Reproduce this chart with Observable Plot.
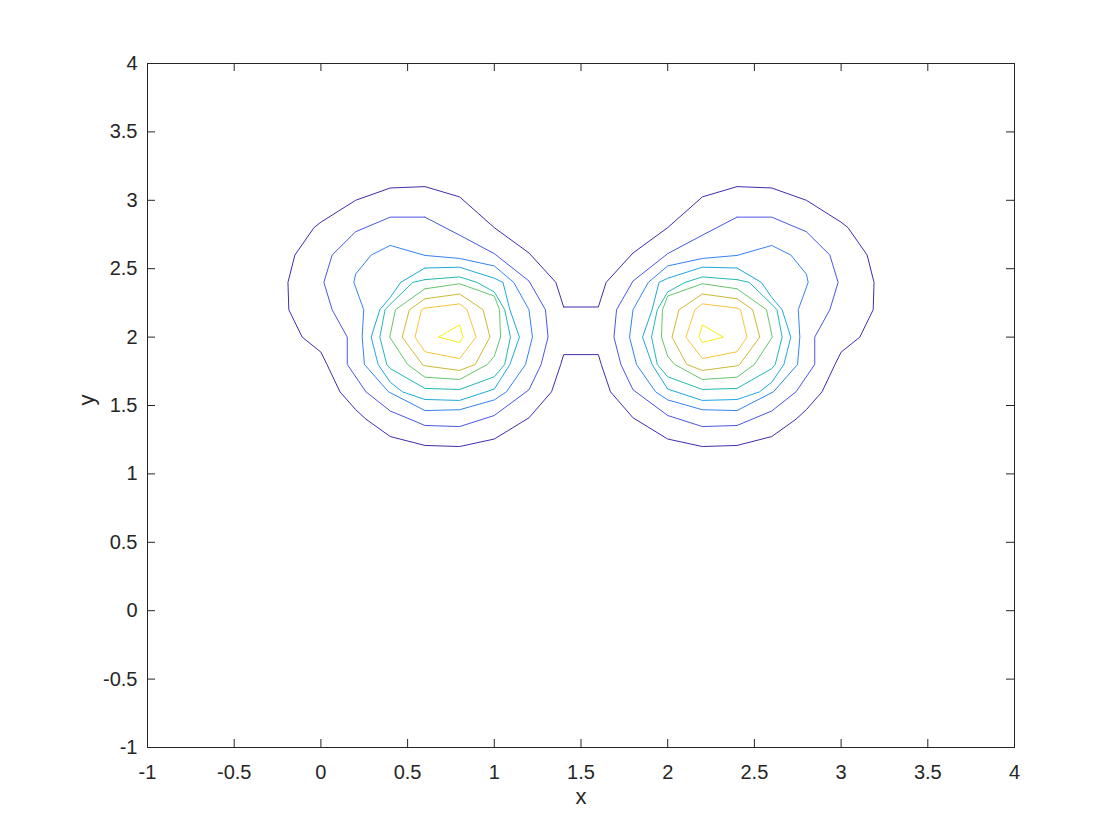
<!DOCTYPE html>
<html><head><meta charset="utf-8">
<script src="https://cdn.jsdelivr.net/npm/d3@7"></script>
<script src="https://cdn.jsdelivr.net/npm/@observablehq/plot@0.6"></script>
<style>body{margin:0;background:#fff}#chart{width:1120px;height:840px}</style>
</head><body><div id="chart"></div>
<script>
// Tick values
const xTicks = [-1, -0.5, 0, 0.5, 1, 1.5, 2, 2.5, 3, 3.5, 4];
const yTicks = [-1, -0.5, 0, 0.5, 1, 1.5, 2, 2.5, 3, 3.5, 4];

// Contour level colours (parula), level 1 = outermost
const levelNames = [1, 2, 3, 4, 5, 6, 7, 8, 9];
const levelColors = ["#3f2daf", "#4b55e6", "#3582f3", "#1ea8dc", "#20bab2", "#66c66a", "#cdb934", "#f8c53c", "#f4f20f"];

// Contour vertices ([x, y])
const level1 = [[1.4,2.22],[1.355,2.4],[1.2,2.615],[1.0,2.8],[0.8,3.025],[0.6,3.1],[0.4,3.09],[0.2,3.0],[0.0,2.84],[-0.04,2.8],[-0.15,2.6],[-0.19,2.4],[-0.185,2.2],[-0.108,2.0],[0.0,1.89],[0.035,1.8],[0.11,1.6],[0.2,1.47],[0.26,1.4],[0.4,1.273],[0.6,1.208],[0.8,1.2],[1.0,1.255],[1.2,1.41],[1.33,1.6],[1.383,1.8],[1.4,1.872],
  [1.6,1.872],[1.617,1.8],[1.67,1.6],[1.8,1.41],[2.0,1.255],[2.2,1.2],[2.4,1.208],[2.6,1.273],[2.74,1.4],[2.8,1.47],[2.89,1.6],[2.965,1.8],[3.0,1.89],[3.108,2.0],[3.185,2.2],[3.19,2.4],[3.15,2.6],[3.04,2.8],[3.0,2.84],[2.8,3.0],[2.6,3.09],[2.4,3.1],[2.2,3.025],[2.0,2.8],[1.8,2.615],[1.645,2.4],[1.6,2.22]];

const level2Left = [[0.6,2.877],[0.8,2.745],[1.0,2.61],[1.2,2.41],[1.295,2.2],[1.31,2.0],[1.27,1.8],[1.2,1.615],[1.0,1.427],[0.8,1.346],[0.6,1.354],[0.4,1.46],[0.26,1.6],[0.152,1.8],[0.152,2.0],[0.065,2.2],[0.017,2.4],[0.065,2.6],[0.2,2.77],[0.4,2.877]];
const level2Right = [[2.4,2.877],[2.2,2.745],[2.0,2.61],[1.8,2.41],[1.705,2.2],[1.69,2.0],[1.73,1.8],[1.8,1.615],[2.0,1.427],[2.2,1.346],[2.4,1.354],[2.6,1.46],[2.74,1.6],[2.848,1.8],[2.848,2.0],[2.935,2.2],[2.983,2.4],[2.935,2.6],[2.8,2.77],[2.6,2.877]];

const level3Left = [[0.6,2.597],[0.4,2.67],[0.29,2.6],[0.2,2.46],[0.19,2.4],[0.247,2.2],[0.238,2.0],[0.251,1.8],[0.39,1.6],[0.6,1.463],[0.8,1.469],[1.0,1.541],[1.07,1.6],[1.18,1.8],[1.22,2.0],[1.2,2.2],[1.112,2.4],[1.0,2.52],[0.8,2.575]];
const level3Right = [[2.4,2.597],[2.6,2.67],[2.71,2.6],[2.8,2.46],[2.81,2.4],[2.753,2.2],[2.762,2.0],[2.749,1.8],[2.61,1.6],[2.4,1.463],[2.2,1.469],[2.0,1.541],[1.93,1.6],[1.82,1.8],[1.78,2.0],[1.8,2.2],[1.888,2.4],[2.0,2.52],[2.2,2.575]];

const level4Left = [[0.6,2.505],[0.8,2.511],[1.0,2.43],[1.05,2.4],[1.09,2.2],[1.145,2.0],[1.09,1.8],[1.0,1.62],[0.8,1.537],[0.6,1.544],[0.47,1.6],[0.4,1.67],[0.33,1.8],[0.29,2.0],[0.34,2.2],[0.4,2.29],[0.46,2.4]];
const level4Right = [[2.4,2.505],[2.2,2.511],[2.0,2.43],[1.95,2.4],[1.91,2.2],[1.855,2.0],[1.91,1.8],[2.0,1.62],[2.2,1.537],[2.4,1.544],[2.53,1.6],[2.6,1.67],[2.67,1.8],[2.71,2.0],[2.66,2.2],[2.6,2.29],[2.54,2.4]];

const level5Left = [[0.6,2.42],[0.8,2.44],[0.9,2.4],[1.0,2.33],[1.06,2.2],[1.093,2.0],[1.06,1.8],[1.0,1.71],[0.8,1.617],[0.6,1.625],[0.4,1.77],[0.38,1.8],[0.34,2.0],[0.37,2.2],[0.4,2.24],[0.53,2.4]];
const level5Right = [[2.4,2.42],[2.2,2.44],[2.1,2.4],[2.0,2.33],[1.94,2.2],[1.907,2.0],[1.94,1.8],[2.0,1.71],[2.2,1.617],[2.4,1.625],[2.6,1.77],[2.62,1.8],[2.66,2.0],[2.63,2.2],[2.6,2.24],[2.47,2.4]];

const level6Left = [[0.6,2.353],[0.8,2.39],[1.0,2.3],[1.03,2.2],[1.036,2.0],[1.0,1.86],[0.96,1.8],[0.8,1.69],[0.6,1.707],[0.5,1.8],[0.397,2.0],[0.43,2.2]];
const level6Right = [[2.4,2.353],[2.2,2.39],[2.0,2.3],[1.97,2.2],[1.964,2.0],[2.0,1.86],[2.04,1.8],[2.2,1.69],[2.4,1.707],[2.5,1.8],[2.603,2.0],[2.57,2.2]];

const level7Left = [[0.6,2.28],[0.8,2.315],[0.935,2.2],[0.975,2.0],[0.89,1.8],[0.8,1.756],[0.6,1.79],[0.585,1.8],[0.469,2.0],[0.51,2.2]];
const level7Right = [[2.4,2.28],[2.2,2.315],[2.065,2.2],[2.025,2.0],[2.11,1.8],[2.2,1.756],[2.4,1.79],[2.415,1.8],[2.531,2.0],[2.49,2.2]];

const level8Left = [[0.6,2.212],[0.8,2.243],[0.843,2.2],[0.895,2.0],[0.8,1.843],[0.6,1.893],[0.543,2.0],[0.58,2.2]];
const level8Right = [[2.4,2.212],[2.2,2.243],[2.157,2.2],[2.105,2.0],[2.2,1.843],[2.4,1.893],[2.457,2.0],[2.42,2.2]];

const level9Left = [[0.68,2.0],[0.8,2.09],[0.82,2.0],[0.8,1.96]];
const level9Right = [[2.32,2.0],[2.2,2.09],[2.18,2.0],[2.2,1.96]];

const rings = [
  [1, level1],
  [2, level2Left], [2, level2Right],
  [3, level3Left], [3, level3Right],
  [4, level4Left], [4, level4Right],
  [5, level5Left], [5, level5Right],
  [6, level6Left], [6, level6Right],
  [7, level7Left], [7, level7Right],
  [8, level8Left], [8, level8Right],
  [9, level9Left], [9, level9Right]
];
const rows = rings.flatMap(([level, pts], i) =>
  [...pts, pts[0]].map(([x, y]) => ({x, y, ring: i, level})));

const W = 1120, H = 840, mL = 147, mR = 106, mT = 63, mB = 93;
const plotW = W - mL - mR, plotH = H - mT - mB, tickLen = 8;
const ink = "#262626";
const font = "'Liberation Sans', Arial, Helvetica, sans-serif";

const chart = Plot.plot({
  width: W, height: H,
  marginLeft: mL, marginRight: mR, marginTop: mT, marginBottom: mB,
  x: {domain: [-1, 4]},
  y: {domain: [-1, 4]},
  color: {type: "ordinal", domain: levelNames, range: levelColors},
  style: {fontFamily: font, fontSize: "20px", background: "#fff", color: ink},
  marks: [
    Plot.line(rows, {x: "x", y: "y", z: "ring", stroke: "level", strokeWidth: 1}),
    Plot.frame({stroke: ink, strokeWidth: 1}),
    Plot.tickX(xTicks, {x: d => d, insetTop: plotH - tickLen, stroke: ink}),
    Plot.tickX(xTicks, {x: d => d, insetBottom: plotH - tickLen, stroke: ink}),
    Plot.tickY(yTicks, {y: d => d, insetRight: plotW - tickLen, stroke: ink}),
    Plot.tickY(yTicks, {y: d => d, insetLeft: plotW - tickLen, stroke: ink}),
    Plot.axisX({ticks: xTicks, tickSize: 0, tickPadding: 17, tickFormat: d => String(d), label: null, fill: ink, fontSize: 20}),
    Plot.axisY({ticks: yTicks, tickSize: 0, tickPadding: 10, tickFormat: d => String(d), label: null, fill: ink, fontSize: 20}),
    Plot.text(["x"], {frameAnchor: "bottom", dy: 56, fontSize: 22, fill: ink}),
    Plot.text(["y"], {frameAnchor: "left", dx: -61, rotate: -90, fontSize: 22, fill: ink})
  ]
});
document.getElementById("chart").appendChild(chart);
</script>
</body></html>
